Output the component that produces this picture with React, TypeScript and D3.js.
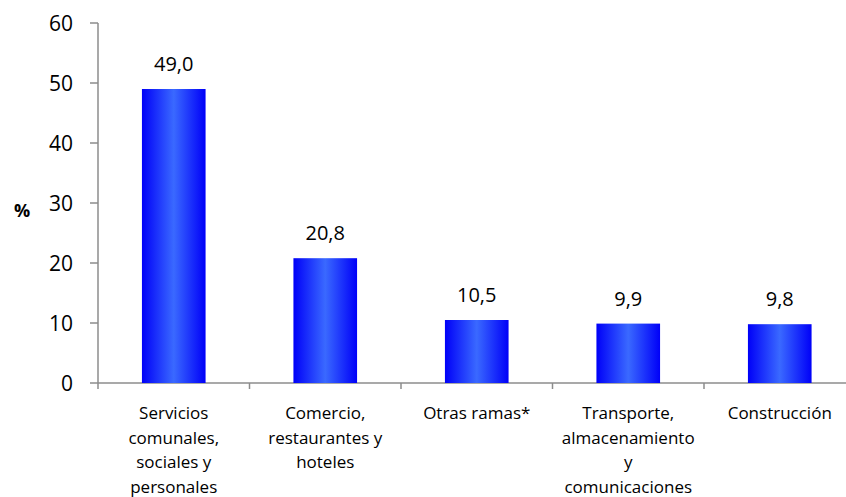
import React from "react";
import * as d3 from "d3";

const categories: string[][] = [
  ["Servicios", "comunales,", "sociales y", "personales"],
  ["Comercio,", "restaurantes y", "hoteles"],
  ["Otras ramas*"],
  ["Transporte,", "almacenamiento", "y", "comunicaciones"],
  ["Construcción"],
];
const values: number[] = [49.0, 20.8, 10.5, 9.9, 9.8];
const yTicks: number[] = [0, 10, 20, 30, 40, 50, 60];

const W = 846;
const H = 497;
const x0 = 98;
const bandW = 151.5;
const yTop = 23;
const yBottom = 383;
const FONT = "'Open Sans', Lato, sans-serif";

export default function App() {
  const keys = categories.map((_, i) => String(i));
  const x = d3.scaleBand<string>().domain(keys).range([x0, x0 + bandW * 5]).paddingInner(0.58).paddingOuter(0.29);
  const y = d3.scaleLinear().domain([0, 60]).range([yBottom, yTop]);
  const fmt = (v: number) => v.toFixed(1).replace(".", ",");
  const axisColor = "#8c8c8c";
  return (
    <svg width={W} height={H} style={{ position: "absolute", left: 0, top: 0 }}>
      <defs>
        <linearGradient id="barGrad" x1="0" x2="1" y1="0" y2="0">
          <stop offset="0" stopColor="#0000f8" />
          <stop offset="0.5" stopColor="#3a69ff" />
          <stop offset="1" stopColor="#0000f8" />
        </linearGradient>
      </defs>
      {/* y axis */}
      <line x1={x0} x2={x0} y1={yTop} y2={yBottom} stroke={axisColor} strokeWidth={1.5} />
      {yTicks.map((t) => (
        <g key={t}>
          <line x1={x0 - 8} x2={x0} y1={y(t)} y2={y(t)} stroke={axisColor} strokeWidth={1.5} />
          <text x={x0 - 25} y={y(t) + 7.5} textAnchor="end" fontFamily={FONT} fontSize={21} fill="#000">
            {t}
          </text>
        </g>
      ))}
      <text x={22} y={217} textAnchor="middle" fontFamily={FONT} fontSize={18} fontWeight="bold" fill="#000">
        %
      </text>
      {/* x axis */}
      <line x1={x0} x2={W} y1={yBottom} y2={yBottom} stroke={axisColor} strokeWidth={1.5} />
      {d3.range(0, 6).map((i) => (
        <line key={i} x1={x0 + bandW * i} x2={x0 + bandW * i} y1={yBottom} y2={yBottom + 6} stroke={axisColor} strokeWidth={1.5} />
      ))}
      {values.map((v, i) => {
        const bx = x(String(i))!;
        const bw = x.bandwidth();
        return (
          <g key={i}>
            <rect x={bx} y={y(v)} width={bw} height={yBottom - y(v)} fill="url(#barGrad)" />
            <text x={bx + bw / 2} y={y(v) - 18} textAnchor="middle" fontFamily={FONT} fontSize={20} fill="#000">
              {fmt(v)}
            </text>
            <text textAnchor="middle" fontFamily={FONT} fontSize={17} fill="#000">
              {categories[i].map((line, j) => (
                <tspan key={j} x={bx + bw / 2} y={419 + j * 24.7}>
                  {line}
                </tspan>
              ))}
            </text>
          </g>
        );
      })}
    </svg>
  );
}
